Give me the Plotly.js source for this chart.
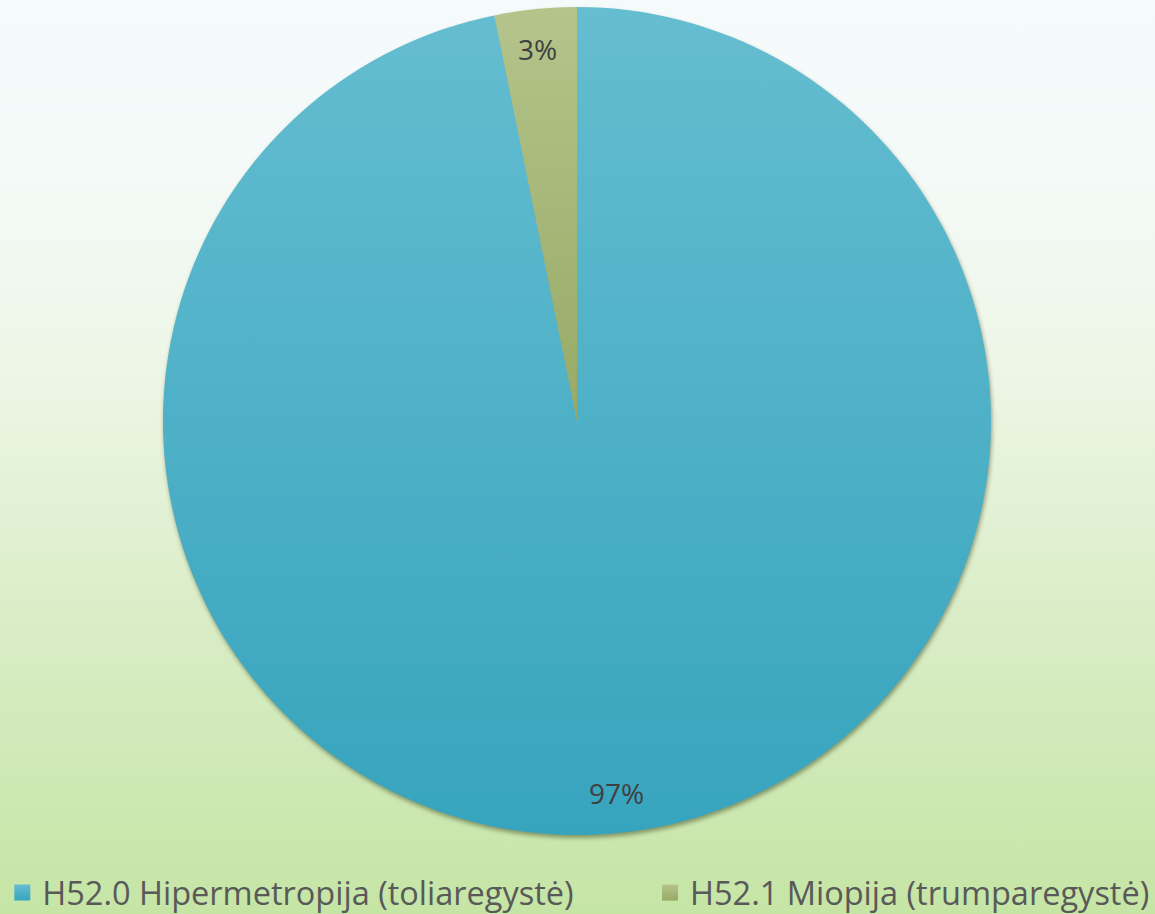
<!DOCTYPE html>
<html>
<head>
<meta charset="utf-8">
<script src="https://cdn.plot.ly/plotly-3.0.1.min.js"></script>
<style>
  html, body { margin: 0; padding: 0; }
  #chart {
    width: 1155px; height: 914px;
    background: linear-gradient(to bottom, #f5fbfb 0%, #f4faf8 18%, #eef6e7 40%, #d9edc6 68%, #c5e5a5 100%);
  }
  #chart .pielayer .trace { filter: drop-shadow(1px 3px 2px rgba(60,70,30,0.5)); }
</style>
</head>
<body>
<div id="chart"></div>
<script>
const categories = ["H52.0 Hipermetropija (toliaregystė)", "H52.1 Miopija (trumparegystė)"];
const values = [96.8, 3.2];
const sliceColors = ["#4bb2c8", "#aabb80"];
// top / bottom shades of each slice's fill gradient
const gradTop = ["#65bdd0", "#b4c48b"];
const gradBottom = ["#37a4be", "#97aa66"];

const W = 1155, H = 914;
const domainX = [0.1411, 0.8580];
const domainY = [0.0864, 0.9923];

const pie = {
  type: "pie",
  labels: categories,
  values: values,
  sort: false,
  direction: "clockwise",
  rotation: 0,
  marker: { colors: sliceColors, line: { width: 0 } },
  textinfo: "none",
  showlegend: false,
  domain: { x: domainX, y: domainY },
  hoverinfo: "label+percent"
};

// legend entries (one per category, each in its own legend box)
const legendTraces = categories.map((c, i) => ({
  type: "scatter", mode: "markers",
  x: [null], y: [null],
  name: c,
  legend: i === 0 ? "legend" : "legend2",
  marker: { symbol: "square", size: 17, color: sliceColors[i], line: { width: 0 } },
  hoverinfo: "skip"
}));

// percentage labels at each slice's mid-angle, near the rim (computed from data)
const total = values.reduce((a, b) => a + b, 0);
const cx = (domainX[0] + domainX[1]) / 2, cy = (domainY[0] + domainY[1]) / 2;
const R = Math.min((domainX[1] - domainX[0]) * W, (domainY[1] - domainY[0]) * H) / 2;
const labelR = 0.955 * R;
let cum = 0;
const annotations = values.map((v) => {
  const mid = (cum + v / 2) / total * 2 * Math.PI;
  cum += v;
  return {
    xref: "paper", yref: "paper",
    x: cx + labelR * Math.sin(mid) / W,
    y: cy + labelR * Math.cos(mid) / H,
    text: Math.round(v / total * 100) + "%",
    showarrow: false,
    font: { family: "Open Sans, sans-serif", size: 28, color: "#404040" }
  };
});

const legendFont = { family: "Open Sans, sans-serif", size: 32.5, color: "#595959" };
const layout = {
  width: W, height: H,
  margin: { l: 0, r: 0, t: 0, b: 0, autoexpand: false },
  paper_bgcolor: "rgba(0,0,0,0)",
  plot_bgcolor: "rgba(0,0,0,0)",
  showlegend: true,
  xaxis: { visible: false },
  yaxis: { visible: false },
  annotations: annotations,
  legend: {
    orientation: "h", x: 0.002, xanchor: "left", y: 0.023, yanchor: "middle",
    font: legendFont, bgcolor: "rgba(0,0,0,0)"
  },
  legend2: {
    orientation: "h", x: 0.5628, xanchor: "left", y: 0.023, yanchor: "middle",
    font: legendFont, bgcolor: "rgba(0,0,0,0)"
  }
};

const ns = "http://www.w3.org/2000/svg";
function ensureGrad(svg, id, c1, c2) {
  let defs = svg.querySelector("defs");
  if (!defs) { defs = document.createElementNS(ns, "defs"); svg.insertBefore(defs, svg.firstChild); }
  if (svg.querySelector("#" + id)) return;
  const g = document.createElementNS(ns, "linearGradient");
  g.setAttribute("id", id);
  g.setAttribute("x1", "0"); g.setAttribute("y1", "0");
  g.setAttribute("x2", "0"); g.setAttribute("y2", "1");
  [[0, c1], [1, c2]].forEach(([o, c]) => {
    const s = document.createElementNS(ns, "stop");
    s.setAttribute("offset", o); s.setAttribute("stop-color", c);
    g.appendChild(s);
  });
  defs.appendChild(g);
}
function restyleFills(gd) {
  const svg = gd.querySelector("svg.main-svg");
  if (!svg) return;
  gd.querySelectorAll(".pielayer path.surface").forEach((p, i) => {
    ensureGrad(svg, "sliceGrad" + i, gradTop[i], gradBottom[i]);
    p.style.fill = "url(#sliceGrad" + i + ")";
  });
  gd.querySelectorAll("g.legendpoints path.scatterpts").forEach((p, k) => {
    const i = k % categories.length;
    ensureGrad(svg, "legGrad" + i, gradTop[i], gradBottom[i]);
    p.style.fill = "url(#legGrad" + i + ")";
  });
}

Plotly.newPlot("chart", [pie].concat(legendTraces), layout, { displayModeBar: false, staticPlot: true })
  .then((gd) => {
    gd.on("plotly_afterplot", () => restyleFills(gd));
    restyleFills(gd);
    setTimeout(() => restyleFills(gd), 50);
    setTimeout(() => restyleFills(gd), 300);
  });
</script>
</body>
</html>
